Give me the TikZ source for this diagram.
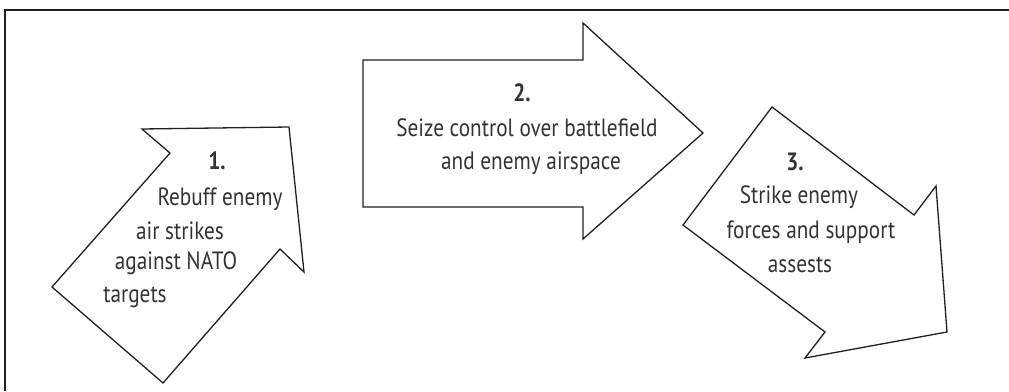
\documentclass[tikz,border=0pt]{standalone}
\usepackage{fontspec}
\setmainfont[FakeStretch=0.85]{PT Sans}
\definecolor{ink}{HTML}{231F20}
\definecolor{txt}{HTML}{333333}
\begin{document}
\begin{tikzpicture}[x=1pt,y=-1pt,
  frame/.style={draw=ink,line width=2.2pt},
  arrowshape/.style={draw=ink,line width=1.3pt,fill=white,line join=miter},
  lbl/.style={text=txt,font=\fontsize{25}{28}\selectfont,inner sep=0pt,anchor=center},
  num/.style={lbl,font=\fontsize{25}{28}\selectfont\bfseries}]
\useasboundingbox (0,0) rectangle (1009,391);
\draw[frame] (5,391) -- (5,10) -- (1009,10);
% arrow 1
\draw[arrowshape] (142,129) -- (289,127) -- (304,272) -- (280,249) -- (163,383) -- (52,287) -- (170,153) -- cycle;
% arrow 2
\draw[arrowshape] (363,60) -- (583,60) -- (583,23) -- (703,133) -- (583,239) -- (583,207) -- (363,207) -- cycle;
% arrow 3
\draw[arrowshape] (772,107) -- (914,215) -- (936,186) -- (947,332) -- (805,358) -- (825,332) -- (683,225) -- cycle;
% texts arrow 1
\node[num] (n1) at (217,161) {1.};
\node[lbl] (a1) at (220,199) {Rebuff enemy};
\node[lbl] (a2) at (180,231) {air strikes};
\node[lbl] (a3) at (176,263) {against NATO};
\node[lbl] (a4) at (135,297) {targets};
% texts arrow 2
\node[num] (n2) at (522,93) {2.};
\node[lbl] (b1) at (527,128) {Seize control over battlefield};
\node[lbl] (b2) at (531,163) {and enemy airspace};
% texts arrow 3
\node[num] (n3) at (795,162) {3.};
\node[lbl] (c1) at (799,197) {Strike enemy};
\node[lbl] (c2) at (811,232) {forces and support};
\node[lbl] (c3) at (800,265) {assests};
\end{tikzpicture}
\end{document}
